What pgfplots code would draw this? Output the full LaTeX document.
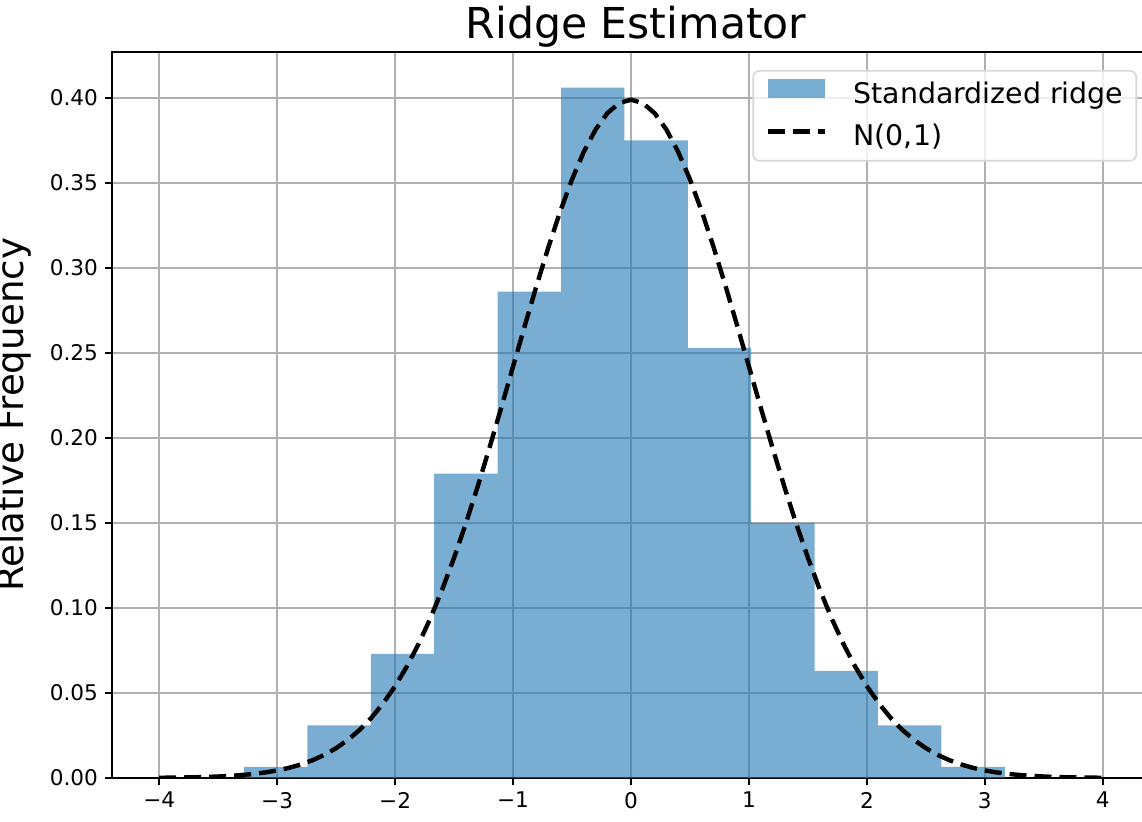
\documentclass[border=0pt]{standalone}
\usepackage{pgfplots}
\pgfplotsset{compat=1.18}
\usepackage{fontspec}
\setmainfont{DejaVu Sans}
\definecolor{tabblue}{RGB}{31,119,180}
\definecolor{gridgray}{RGB}{176,176,176}
\definecolor{legframe}{RGB}{214,214,214}
\begin{document}
\begin{tikzpicture}
\begin{axis}[
  at={(0,0)}, anchor=south west,
  scale only axis, width=519pt, height=363pt,
  xmin=-4.4, xmax=4.4, ymin=0, ymax=0.427,
  xtick={-4,-3,-2,-1,0,1,2,3,4},
  xticklabels={−4,−3,−2,−1,0,1,2,3,4},
  ytick={0,0.05,0.10,0.15,0.20,0.25,0.30,0.35,0.40},
  yticklabel style={/pgf/number format/fixed, /pgf/number format/fixed zerofill, /pgf/number format/precision=2},
  /pgf/number format/assume math mode=true,
  ticklabel style={font=\fontsize{10.8}{13}\selectfont},
  tick pos=left, tick align=outside,
  major tick length=3.5pt,
  tick style={black, line width=1.1pt},
  axis line style={black, line width=1.2pt},
  grid=major,
  major grid style={gridgray, line width=0.9pt},
  title={Ridge Estimator},
  title style={at={(axis description cs:0.5,1)}, anchor=base, yshift=0.5pt, xshift=2.5pt, font=\fontsize{21.3}{25}\selectfont},
  ylabel={Relative Frequency},
  ylabel style={at={(axis description cs:-0.0848,0.5)}, anchor=base, font=\fontsize{18.6}{22}\selectfont},
  legend cell align=left,
  legend style={at={(axis description cs:0.9875,0.975)}, anchor=north east,
    draw=legframe, line width=0.8pt, rounded corners=3pt, fill=white, fill opacity=0.8, text opacity=1,
    font=\fontsize{14.2}{17}\selectfont,
    inner xsep=6.5pt, inner ysep=4.2pt, row sep=7pt, column sep=0pt,
    nodes={inner sep=0pt, text height=10.5pt, text depth=3.5pt}},
]
\addplot[ybar interval, fill=tabblue, fill opacity=0.6, draw=none,
  legend image code/.code={\fill[tabblue, fill opacity=0.6, sharp corners] (0pt,-1pt) rectangle (28.5pt,8.5pt); \path (41.5pt,0pt);}]
coordinates {
(-3.280,0.0066) (-2.743,0.031) (-2.205,0.073) (-1.668,0.179) (-1.130,0.286) (-0.593,0.406)
(-0.056,0.375) (0.482,0.253) (1.019,0.150) (1.557,0.063) (2.094,0.031) (2.632,0.0066) (3.169,0.0066)
};
\addlegendentry{Standardized ridge}
\addplot[black, line width=2.2pt, dash pattern=on 8.5pt off 4pt, no markers,
  legend image code/.code={\draw[black, line width=2.2pt, dash pattern=on 8.5pt off 4pt, sharp corners] (0pt,3.5pt) -- (28.5pt,3.5pt); \path (41.5pt,0pt);}]
coordinates {
(-4.0,0.000134) (-3.9,0.000199) (-3.8,0.000292) (-3.7,0.000425) (-3.6,0.000612) (-3.5,0.000873)
(-3.4,0.001232) (-3.3,0.001723) (-3.2,0.002384) (-3.1,0.003267) (-3.0,0.004432) (-2.9,0.005953)
(-2.8,0.007915) (-2.7,0.010421) (-2.6,0.013583) (-2.5,0.017528) (-2.4,0.022395) (-2.3,0.028327)
(-2.2,0.035475) (-2.1,0.043984) (-2.0,0.053991) (-1.9,0.065616) (-1.8,0.078950) (-1.7,0.094049)
(-1.6,0.110921) (-1.5,0.129518) (-1.4,0.149727) (-1.3,0.171369) (-1.2,0.194186) (-1.1,0.217852)
(-1.0,0.241971) (-0.9,0.266085) (-0.8,0.289692) (-0.7,0.312254) (-0.6,0.333225) (-0.5,0.352065)
(-0.4,0.368270) (-0.3,0.381388) (-0.2,0.391043) (-0.1,0.396953) (0.0,0.398942)
(0.1,0.396953) (0.2,0.391043) (0.3,0.381388) (0.4,0.368270) (0.5,0.352065) (0.6,0.333225)
(0.7,0.312254) (0.8,0.289692) (0.9,0.266085) (1.0,0.241971) (1.1,0.217852) (1.2,0.194186)
(1.3,0.171369) (1.4,0.149727) (1.5,0.129518) (1.6,0.110921) (1.7,0.094049) (1.8,0.078950)
(1.9,0.065616) (2.0,0.053991) (2.1,0.043984) (2.2,0.035475) (2.3,0.028327) (2.4,0.022395)
(2.5,0.017528) (2.6,0.013583) (2.7,0.010421) (2.8,0.007915) (2.9,0.005953) (3.0,0.004432)
(3.1,0.003267) (3.2,0.002384) (3.3,0.001723) (3.4,0.001232) (3.5,0.000873) (3.6,0.000612)
(3.7,0.000425) (3.8,0.000292) (3.9,0.000199) (4.0,0.000134)
};
\addlegendentry{N(0,1)}
\end{axis}
\pgfresetboundingbox
\useasboundingbox (-56pt,-22pt) rectangle (515pt,389pt);
\end{tikzpicture}
\end{document}
